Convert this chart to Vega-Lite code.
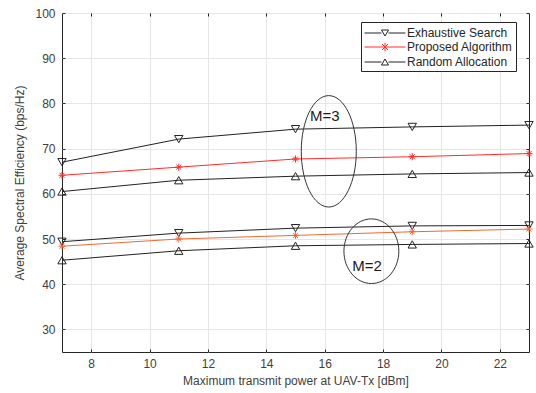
{
  "$schema": "https://vega.github.io/schema/vega-lite/v6.json",
  "width": 467,
  "height": 339,
  "autosize": "none",
  "padding": {"left": 62, "top": 13, "right": 7, "bottom": 41},
  "background": "white",
  "config": {
    "font": "Liberation Sans",
    "view": {"stroke": "#262626", "strokeWidth": 1},
    "axis": {
      "labelFont": "Liberation Sans",
      "titleFont": "Liberation Sans",
      "labelFontSize": 12,
      "titleFontSize": 12,
      "labelColor": "#404040",
      "titleColor": "#404040",
      "titleFontWeight": "normal",
      "gridColor": "#e6e6e6",
      "gridWidth": 1,
      "domain": false,
      "ticks": true,
      "tickSize": -3,
      "tickColor": "#262626"
    }
  },
  "resolve": {"axis": {"x": "independent", "y": "independent"}},
  "datasets": {
    "curves": [
      {"P": 7, "SE": 67.0, "series": "Exhaustive Search", "M": 3},
      {"P": 11, "SE": 72.1, "series": "Exhaustive Search", "M": 3},
      {"P": 15, "SE": 74.3, "series": "Exhaustive Search", "M": 3},
      {"P": 19, "SE": 74.8, "series": "Exhaustive Search", "M": 3},
      {"P": 23, "SE": 75.2, "series": "Exhaustive Search", "M": 3},
      {"P": 7, "SE": 64.1, "series": "Proposed Algorithm", "M": 3},
      {"P": 11, "SE": 65.9, "series": "Proposed Algorithm", "M": 3},
      {"P": 15, "SE": 67.7, "series": "Proposed Algorithm", "M": 3},
      {"P": 19, "SE": 68.2, "series": "Proposed Algorithm", "M": 3},
      {"P": 23, "SE": 68.9, "series": "Proposed Algorithm", "M": 3},
      {"P": 7, "SE": 60.5, "series": "Random Allocation", "M": 3},
      {"P": 11, "SE": 63.0, "series": "Random Allocation", "M": 3},
      {"P": 15, "SE": 63.9, "series": "Random Allocation", "M": 3},
      {"P": 19, "SE": 64.4, "series": "Random Allocation", "M": 3},
      {"P": 23, "SE": 64.7, "series": "Random Allocation", "M": 3},
      {"P": 7, "SE": 49.4, "series": "Exhaustive Search", "M": 2},
      {"P": 11, "SE": 51.3, "series": "Exhaustive Search", "M": 2},
      {"P": 15, "SE": 52.4, "series": "Exhaustive Search", "M": 2},
      {"P": 19, "SE": 52.9, "series": "Exhaustive Search", "M": 2},
      {"P": 23, "SE": 53.0, "series": "Exhaustive Search", "M": 2},
      {"P": 7, "SE": 48.4, "series": "Proposed Algorithm", "M": 2},
      {"P": 11, "SE": 50.0, "series": "Proposed Algorithm", "M": 2},
      {"P": 15, "SE": 50.8, "series": "Proposed Algorithm", "M": 2},
      {"P": 19, "SE": 51.6, "series": "Proposed Algorithm", "M": 2},
      {"P": 23, "SE": 52.2, "series": "Proposed Algorithm", "M": 2},
      {"P": 7, "SE": 45.3, "series": "Random Allocation", "M": 2},
      {"P": 11, "SE": 47.4, "series": "Random Allocation", "M": 2},
      {"P": 15, "SE": 48.5, "series": "Random Allocation", "M": 2},
      {"P": 19, "SE": 48.8, "series": "Random Allocation", "M": 2},
      {"P": 23, "SE": 49.0, "series": "Random Allocation", "M": 2}
    ],
    "ringM3": [{"P": 16.14, "SE": 69.4}],
    "ringM2": [{"P": 17.6, "SE": 47.3}],
    "labels": [
      {"P": 16.0, "SE": 77.3, "text": "M=3"},
      {"P": 17.45, "SE": 44.0, "text": "M=2"}
    ]
  },
  "layer": [
    {
      "data": {"name": "curves"},
      "mark": {"type": "line", "strokeWidth": 1},
      "encoding": {
        "x": {"field": "P", "type": "quantitative", "scale": {"domain": [7, 23], "nice": false, "zero": false},
              "axis": {"values": [8, 10, 12, 14, 16, 18, 20, 22], "title": "Maximum transmit power at UAV-Tx [dBm]", "labelPadding": 9, "titlePadding": 6}},
        "y": {"field": "SE", "type": "quantitative", "scale": {"domain": [25, 100], "nice": false, "zero": false},
              "axis": {"values": [30, 40, 50, 60, 70, 80, 90, 100], "title": "Average Spectral Efficiency (bps/Hz)", "labelPadding": 10, "titlePadding": 8}},
        "detail": {"field": "M", "type": "nominal"},
        "color": {
          "condition": {"test": "datum.series === 'Proposed Algorithm' && datum.M === 2", "value": "#ee6a35"},
          "field": "series", "type": "nominal",
          "scale": {"domain": ["Exhaustive Search", "Proposed Algorithm", "Random Allocation"], "range": ["#222222", "#ff2b2b", "#222222"]},
          "legend": {
            "title": null,
            "orient": "none",
            "legendX": 299,
            "legendY": 9,
            "direction": "vertical",
            "fillColor": "white",
            "strokeColor": "#262626",
            "padding": 3,
            "rowPadding": 0,
            "labelFont": "Liberation Sans",
            "labelFontSize": 12,
            "labelColor": "#262626",
            "labelOffset": 14,
            "symbolOffset": 13,
            "symbolSize": 225,
            "symbolStrokeWidth": 1,
            "encode": {
              "symbols": {
                "update": {
                  "shape": {"signal": "datum.value === 'Proposed Algorithm' ? 'M-2.73,0L2.73,0M-0.4,-0.4L0.4,0.4M-0.4,0.4L0.4,-0.4M0,-0.55L0,0.55' : datum.value === 'Exhaustive Search' ? 'M-2.73,0L-0.47,0M0.47,0L2.73,0M-0.47,-0.4L0.47,-0.4L0,0.4Z' : 'M-2.73,0L-0.47,0M0.47,0L2.73,0M-0.47,0.4L0.47,0.4L0,-0.4Z'"},
                  "stroke": {"signal": "datum.value === 'Proposed Algorithm' ? '#f08a60' : '#555555'"},
                  "fill": {"value": "transparent"},
                  "strokeWidth": {"value": 1}
                }
              }
            }
          }
        }
      }
    },
    {
      "data": {"name": "curves"},
      "transform": [{"filter": "datum.series === 'Exhaustive Search'"}],
      "mark": {"type": "point", "filled": false, "size": 70, "strokeWidth": 1, "opacity": 1, "shape": "triangle-down", "stroke": "#222222"},
      "encoding": {
        "x": {"field": "P", "type": "quantitative", "axis": null},
        "y": {"field": "SE", "type": "quantitative", "axis": null}
      }
    },
    {
      "data": {"name": "curves"},
      "transform": [{"filter": "datum.series === 'Random Allocation'"}],
      "mark": {"type": "point", "filled": false, "size": 70, "strokeWidth": 1, "opacity": 1, "shape": "triangle-up", "stroke": "#222222"},
      "encoding": {
        "x": {"field": "P", "type": "quantitative", "axis": null},
        "y": {"field": "SE", "type": "quantitative", "axis": null}
      }
    },
    {
      "data": {"name": "curves"},
      "transform": [{"filter": "datum.series === 'Proposed Algorithm'"}],
      "mark": {"type": "point", "filled": false, "size": 50, "strokeWidth": 1, "opacity": 1, "shape": "M-1,0L1,0M0,-1L0,1M-0.7,-0.7L0.7,0.7M-0.7,0.7L0.7,-0.7"},
      "encoding": {
        "x": {"field": "P", "type": "quantitative", "axis": null},
        "y": {"field": "SE", "type": "quantitative", "axis": null},
        "stroke": {
          "condition": {"test": "datum.M === 2", "value": "#ee6a35"},
          "value": "#ff2b2b"
        }
      }
    },
    {
      "data": {"name": "ringM3"},
      "mark": {"type": "point", "filled": false, "stroke": "#333333", "strokeWidth": 1, "opacity": 1, "size": 12410,
               "shape": "M-0.494,0A0.494,1,0,1,1,0.494,0A0.494,1,0,1,1,-0.494,0Z"},
      "encoding": {
        "x": {"field": "P", "type": "quantitative", "axis": null},
        "y": {"field": "SE", "type": "quantitative", "axis": null}
      }
    },
    {
      "data": {"name": "ringM2"},
      "mark": {"type": "point", "filled": false, "stroke": "#333333", "strokeWidth": 1, "opacity": 1, "size": 4173,
               "shape": "M-0.85,0A0.85,1,0,1,1,0.85,0A0.85,1,0,1,1,-0.85,0Z"},
      "encoding": {
        "x": {"field": "P", "type": "quantitative", "axis": null},
        "y": {"field": "SE", "type": "quantitative", "axis": null}
      }
    },
    {
      "data": {"name": "labels"},
      "mark": {"type": "text", "font": "Liberation Sans", "fontSize": 15, "color": "#1a1a1a", "align": "center", "baseline": "middle"},
      "encoding": {
        "x": {"field": "P", "type": "quantitative",
              "axis": {"orient": "top", "values": [8, 10, 12, 14, 16, 18, 20, 22], "labels": false, "title": null, "grid": false}},
        "y": {"field": "SE", "type": "quantitative",
              "axis": {"orient": "right", "values": [30, 40, 50, 60, 70, 80, 90, 100], "labels": false, "title": null, "grid": false}},
        "text": {"field": "text", "type": "nominal"}
      }
    }
  ]
}
